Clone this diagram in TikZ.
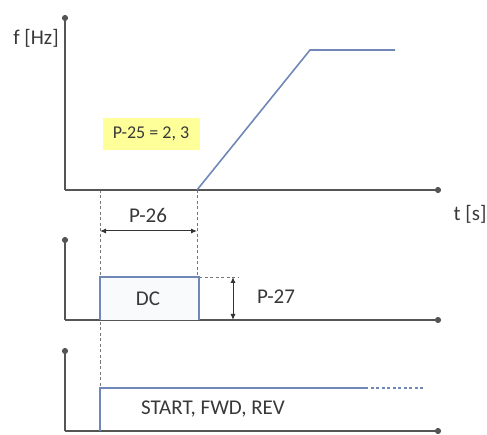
\documentclass[tikz,border=0pt]{standalone}
\usepackage{fontspec}
\setmainfont{Carlito}
\usetikzlibrary{arrows.meta}
\definecolor{axisgray}{HTML}{555555}
\definecolor{txtgray}{HTML}{383838}
\definecolor{sigblue}{HTML}{7088B8}
\definecolor{boxyellow}{HTML}{FFFF99}
\begin{document}
\begin{tikzpicture}[x=1pt,y=-1pt,
  axis/.style={draw=axisgray,line width=1.7pt,-{Circle[length=6pt]}},
  sig/.style={draw=sigblue,line width=1.6pt},
  guide/.style={draw=axisgray!80,line width=0.9pt,dash pattern=on 3pt off 2.5pt},
  dim/.style={draw=black!80,line width=1pt,{Latex[length=6pt,width=5pt]}-{Latex[length=6pt,width=5pt]}},
  lbl/.style={text=txtgray,font=\fontsize{21}{25}\selectfont,inner sep=0pt},
  every node/.style={inner sep=0pt}]
\useasboundingbox (0,0) rectangle (487,435);
% coordinates
\coordinate (o1) at (65,190); \coordinate (y1) at (65,15); \coordinate (x1) at (441,190);
\coordinate (o2) at (65,320); \coordinate (y2) at (65,237); \coordinate (x2) at (441,320);
\coordinate (o3) at (65,431); \coordinate (y3) at (65,348); \coordinate (x3) at (441,431);
\coordinate (r0) at (197,190); \coordinate (r1) at (310,50); \coordinate (r2) at (395,50);
\coordinate (p0) at (100,320); \coordinate (p1) at (100,277); \coordinate (p2) at (199,277); \coordinate (p3) at (199,320);
\coordinate (s0) at (100,431); \coordinate (s1) at (100,388); \coordinate (s2) at (365,388); \coordinate (s3) at (425,388);
\coordinate (g1a) at (100,190); \coordinate (g1b) at (100,388);
\coordinate (g2a) at (197,190); \coordinate (g2b) at (197,277);
\coordinate (g3b) at (238,277);
\coordinate (d1a) at (100,231); \coordinate (d1b) at (197,231);
\coordinate (d2a) at (233,277); \coordinate (d2b) at (233,320);
% yellow box
\node[fill=boxyellow,minimum width=97pt,minimum height=32pt,text=txtgray,font=\fontsize{18}{21}\selectfont] (p25) at (151,134) {P-25 = 2, 3};
% guides
\draw[guide] (g1a) -- (g1b);
\draw[guide] (g2a) -- (g2b);
\draw[guide] (p2) -- (g3b);
% axes
\draw[axis] (o1) -- (y1);
\draw[axis] (o1) -- (x1);
\draw[axis] (o2) -- (y2);
\draw[axis] (o2) -- (x2);
\draw[axis] (o3) -- (y3);
\draw[axis] (o3) -- (x3);
% signals
\draw[sig,line join=miter] (r0) -- (r1) -- (r2);
\draw[sig,fill=sigblue!4] (p0) -- (p1) -- (p2) -- (p3);
\draw[sig] (s0) -- (s1) -- (s2);
\draw[sig,dash pattern=on 3pt off 2.5pt,line width=1.2pt] (s2) -- (s3);
% dimensions
\draw[dim] (d1a) -- (d1b);
\draw[dim] (d2a) -- (d2b);
% labels
\node[lbl] (fhz) at (36,38) {f [Hz]};
\node[lbl] (ts) at (470,214) {t [s]};
\node[lbl] (p26) at (148,215) {P-26};
\node[lbl] (dc) at (148,299) {DC};
\node[lbl] (p27) at (276,297) {P-27};
\node[lbl] (start) at (213,409) {START, FWD, REV};
\end{tikzpicture}
\end{document}
